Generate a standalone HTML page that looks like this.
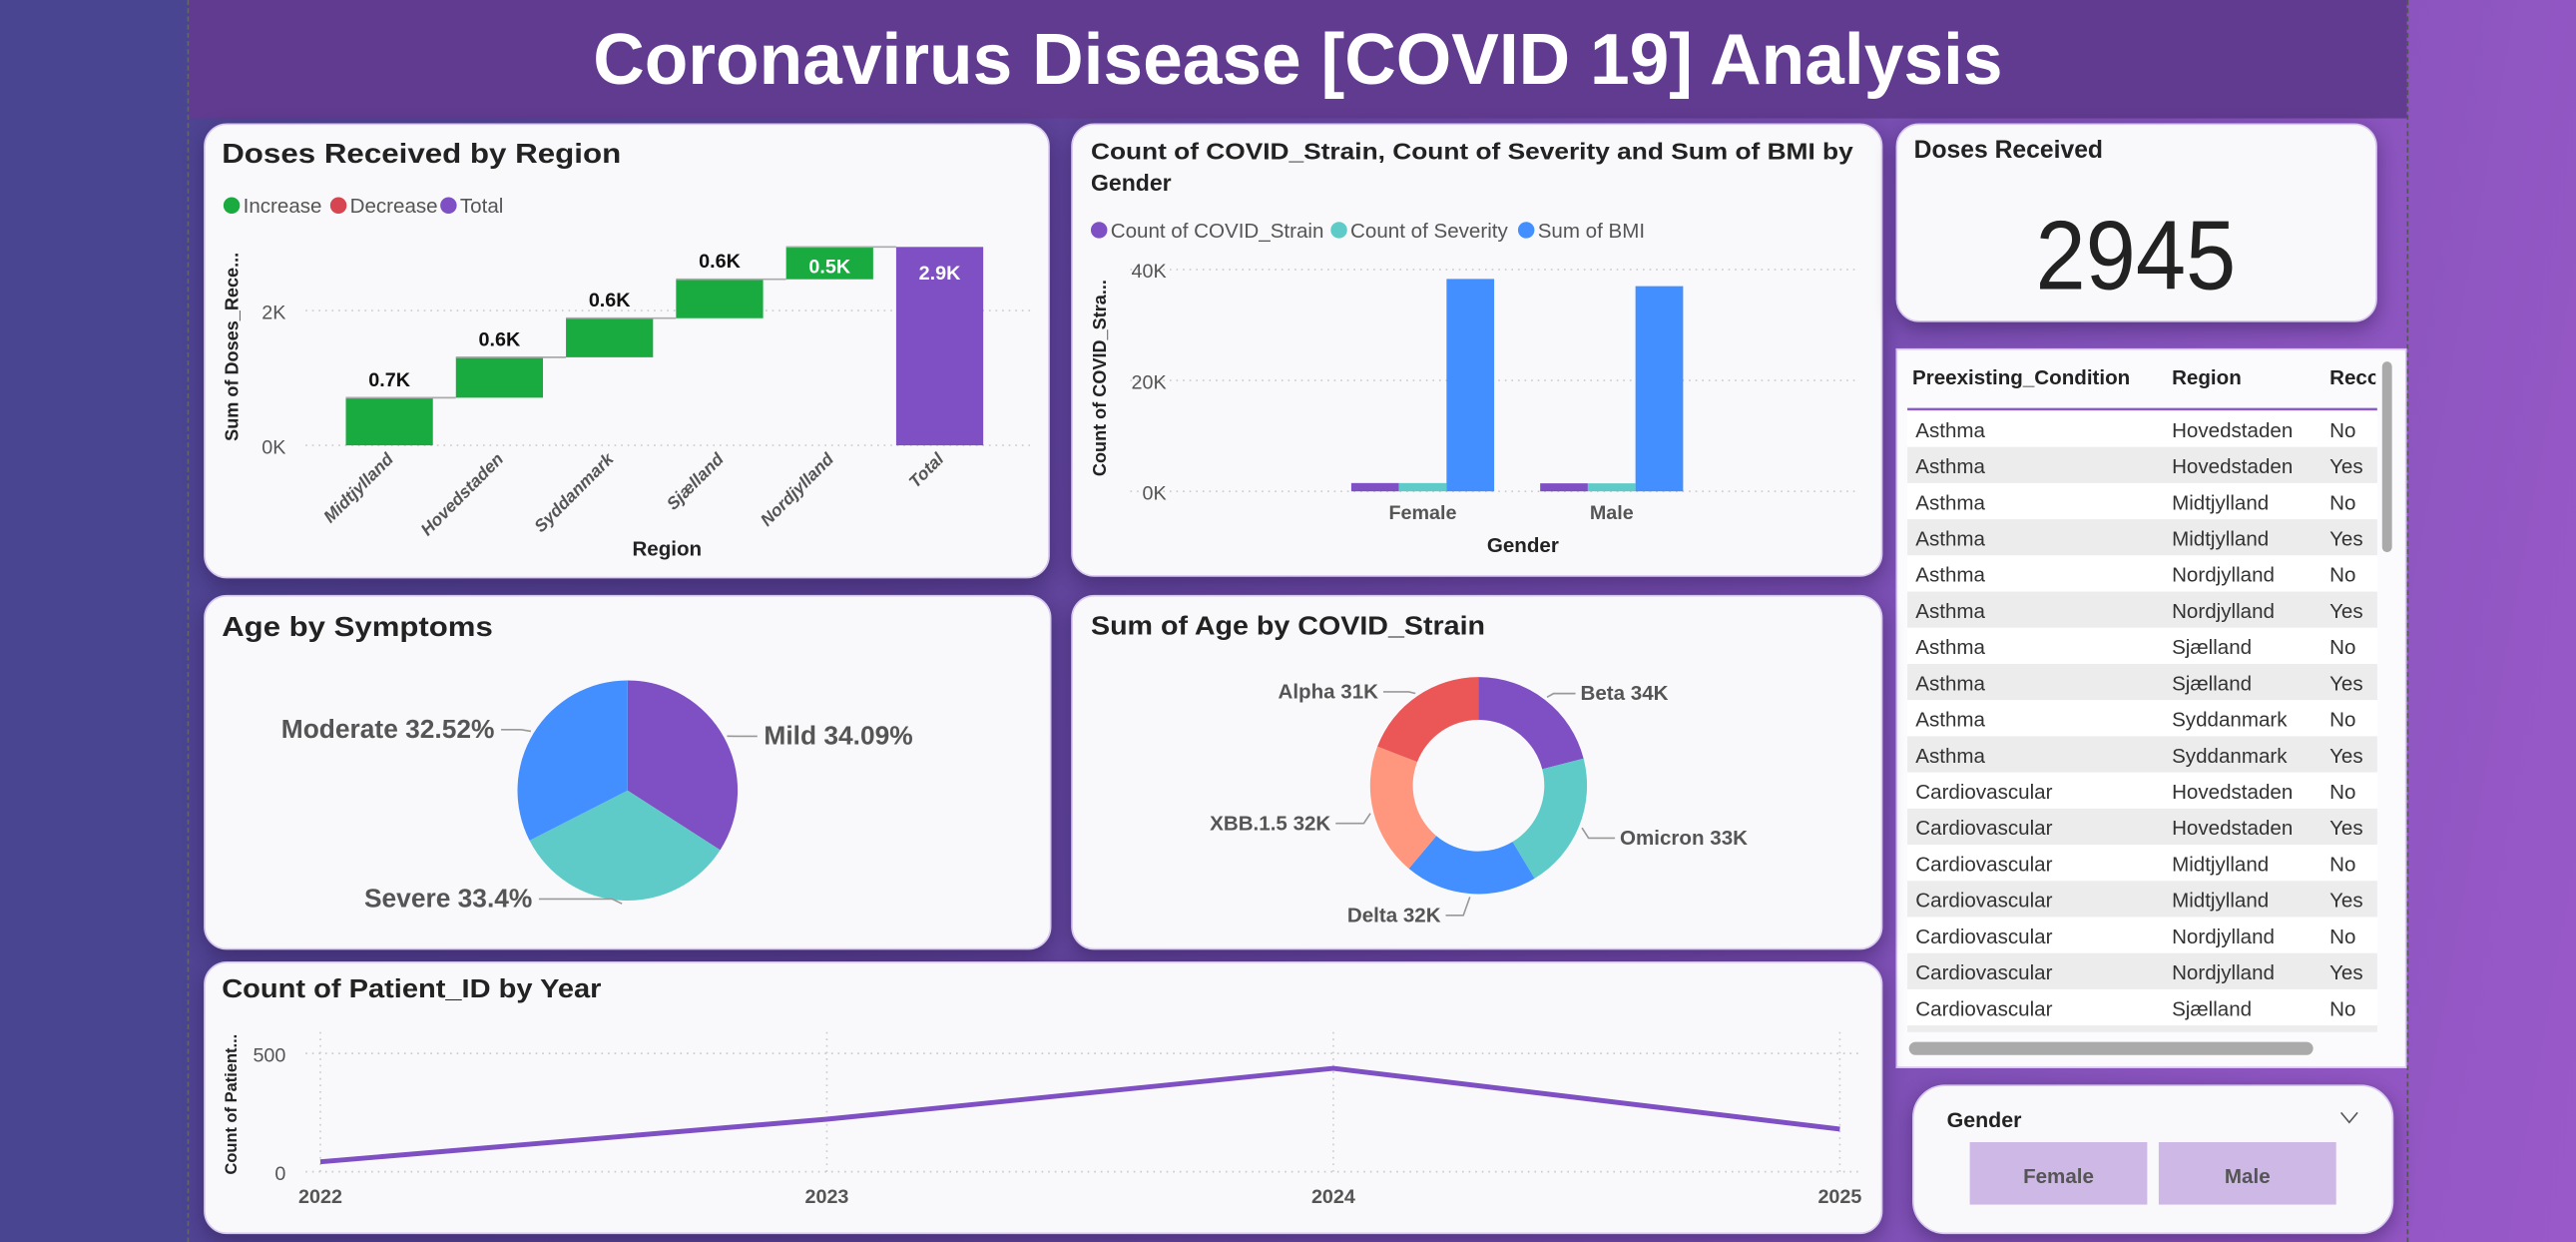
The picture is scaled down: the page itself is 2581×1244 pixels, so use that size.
<!DOCTYPE html>
<html><head><meta charset="utf-8">
<style>
html,body{margin:0;padding:0;width:2581px;height:1244px;overflow:hidden;}
body{background:linear-gradient(100deg,#4a4591 0%,#5a4296 35%,#7a4fb3 70%,#9a59c9 100%);font-family:"Liberation Sans",sans-serif;}
#stage{position:absolute;left:0;top:0;width:1568px;height:756px;transform:scale(1.64605);transform-origin:0 0;}
.card{position:absolute;background:#f9f9fb;border-radius:14px;box-shadow:0 4px 12px rgba(40,20,70,.45);border:1px solid #d7c8ef;box-sizing:border-box;}
svg{position:absolute;left:0;top:0;}
text{font-family:"Liberation Sans",sans-serif;}
</style></head><body>
<div id="stage">
<div style="position:absolute;left:0;top:0;width:115px;height:756px;background:#4a4591"></div>
<div style="position:absolute;left:115px;top:0;width:1350px;height:72px;background:#613b8f"></div>
<div style="position:absolute;left:114px;top:0;height:756px;border-left:1px dashed #666"></div>
<div style="position:absolute;left:1465px;top:0;height:756px;border-left:1px dashed #555"></div>
<div class="card" style="left:124px;top:75px;width:515px;height:277px"></div>
<div class="card" style="left:652px;top:75px;width:494px;height:276px"></div>
<div class="card" style="left:1154px;top:75px;width:293px;height:121px"></div>
<div style="position:absolute;left:1154px;top:212px;width:311px;height:438px;background:#fbfbfd;border:1px solid #d7c8ef;box-sizing:border-box"></div>
<div class="card" style="left:1164px;top:660px;width:293px;height:91px;border-radius:20px"></div>
<div class="card" style="left:124px;top:362px;width:516px;height:216px"></div>
<div class="card" style="left:652px;top:362px;width:494px;height:216px"></div>
<div class="card" style="left:124px;top:585px;width:1022px;height:166px"></div>

<svg id="svg" width="1568" height="756" viewBox="0 0 1568 756">
<text x="790" y="51" text-anchor="middle" font-size="44" font-weight="bold" fill="#fff" textLength="858" lengthAdjust="spacingAndGlyphs">Coronavirus Disease [COVID 19] Analysis</text>

<text x="135" y="99" font-size="17" font-weight="bold" fill="#222" textLength="243" lengthAdjust="spacingAndGlyphs">Doses Received by Region</text>
<g font-size="12.5" fill="#555">
<circle cx="141" cy="125" r="5" fill="#1aab40"/><text x="148" y="129.5">Increase</text>
<circle cx="206" cy="125" r="5" fill="#d64550"/><text x="213" y="129.5">Decrease</text>
<circle cx="273" cy="125" r="5" fill="#7f4fc4"/><text x="280" y="129.5">Total</text>
</g>
<g id="wf"></g>
<text transform="translate(145,211) rotate(-90)" text-anchor="middle" font-size="11" font-weight="bold" fill="#222">Sum of Doses_Rece...</text>
<text x="406" y="338" text-anchor="middle" font-size="12.5" font-weight="bold" fill="#222">Region</text>

<text x="664" y="97" font-size="14" font-weight="bold" fill="#222" textLength="464" lengthAdjust="spacingAndGlyphs">Count of COVID_Strain, Count of Severity and Sum of BMI by</text>
<text x="664" y="116" font-size="14" font-weight="bold" fill="#222">Gender</text>
<g font-size="12.5" fill="#555">
<circle cx="669" cy="140" r="5" fill="#7f4fc4"/><text x="676" y="144.5">Count of COVID_Strain</text>
<circle cx="815" cy="140" r="5" fill="#5ecbc8"/><text x="822" y="144.5">Count of Severity</text>
<circle cx="929" cy="140" r="5" fill="#438fff"/><text x="936" y="144.5">Sum of BMI</text>
</g>
<g id="bc"></g>
<text transform="translate(673,230) rotate(-90)" text-anchor="middle" font-size="11" font-weight="bold" fill="#222">Count of COVID_Stra...</text>
<text x="927" y="336" text-anchor="middle" font-size="12.5" font-weight="bold" fill="#222">Gender</text>

<text x="1165" y="96" font-size="15" font-weight="bold" fill="#222">Doses Received</text>
<text x="1300" y="176" text-anchor="middle" font-size="60" fill="#222" textLength="122" lengthAdjust="spacingAndGlyphs">2945</text>

<g id="tbl"></g>

<text x="1185" y="686" font-size="13" font-weight="bold" fill="#222">Gender</text>
<path d="M1425 677 L1430 683 L1435 677" stroke="#555" fill="none" stroke-width="1"/>
<g><rect x="1199" y="695" width="108" height="38" fill="#cdb8e6"/><text x="1253" y="720" text-anchor="middle" font-size="12.5" font-weight="bold" fill="#555">Female</text></g>
<g><rect x="1314" y="695" width="108" height="38" fill="#cdb8e6"/><text x="1368" y="720" text-anchor="middle" font-size="12.5" font-weight="bold" fill="#555">Male</text></g>

<text x="135" y="387" font-size="17" font-weight="bold" fill="#222" textLength="165" lengthAdjust="spacingAndGlyphs">Age by Symptoms</text>
<g id="pie"></g>

<text x="664" y="386" font-size="16" font-weight="bold" fill="#222" textLength="240" lengthAdjust="spacingAndGlyphs">Sum of Age by COVID_Strain</text>
<g id="donut"></g>

<text x="135" y="607" font-size="16" font-weight="bold" fill="#222" textLength="231" lengthAdjust="spacingAndGlyphs">Count of Patient_ID by Year</text>
<g id="ln"></g>
<text transform="translate(144,672) rotate(-90)" text-anchor="middle" font-size="10" font-weight="bold" fill="#222">Count of Patient...</text>
</svg>
</div>
<script>
const NS="http://www.w3.org/2000/svg";
function mk(tag,attrs,parent,txt){const e=document.createElementNS(NS,tag);for(const k in attrs)e.setAttribute(k,attrs[k]);if(txt!=null)e.textContent=txt;parent.appendChild(e);return e;}

// Waterfall data
const regions=["Midtjylland","Hovedstaden","Syddanmark","Sjælland","Nordjylland"];
const regionDoses=[707,600,580,578,480];
const regionLabels=["0.7K","0.6K","0.6K","0.6K","0.5K"];
const totalLabel="2.9K";
const wfTicks=[0,2000];
const wfTickLabels=["0K","2K"];

// Grouped bar data
const genders=["Female","Male"];
const strainCount=[1500,1450];
const severityCount=[1500,1450];
const bmiSum=[38300,37000];
const bcTicks=[0,20000,40000];
const bcTickLabels=["0K","20K","40K"];

// Table data
const tCond=["Asthma","Asthma","Asthma","Asthma","Asthma","Asthma","Asthma","Asthma","Asthma","Asthma","Cardiovascular","Cardiovascular","Cardiovascular","Cardiovascular","Cardiovascular","Cardiovascular","Cardiovascular","Cardiovascular"];
const tRegion=["Hovedstaden","Hovedstaden","Midtjylland","Midtjylland","Nordjylland","Nordjylland","Sjælland","Sjælland","Syddanmark","Syddanmark","Hovedstaden","Hovedstaden","Midtjylland","Midtjylland","Nordjylland","Nordjylland","Sjælland","Sjælland"];
const tRec=["No","Yes","No","Yes","No","Yes","No","Yes","No","Yes","No","Yes","No","Yes","No","Yes","No","Yes"];

// Pie data
const symptoms=["Mild","Severe","Moderate"];
const symptomPct=[34.09,33.4,32.52];

// Donut data
const strains=["Beta","Omicron","Delta","XBB.1.5","Alpha"];
const strainAge=[34,33,32,32,31];
const strainLabels=["Beta 34K","Omicron 33K","Delta 32K","XBB.1.5 32K","Alpha 31K"];

// Line data
const years=["2022","2023","2024","2025"];
const patients=[42,222,437,180];
const lnTicks=[0,500];

// ---- Waterfall
(function(){
 const g=document.getElementById('wf');
 const y0=271, k=82/2000, x0=237, step=67, bw=53;
 const Y=v=>y0-v*k;
 wfTicks.forEach((t,i)=>{
  const l=mk('line',{x1:186,x2:628,y1:Y(t),y2:Y(t),stroke:'#ccc','stroke-dasharray':'1 3'},g);
  
  const tx=mk('text',{x:174,y:Y(t)+5,'text-anchor':'end','font-size':12,fill:'#555'},g,wfTickLabels[i]);
  
 });
 let cum=0;
 regionDoses.forEach((v,i)=>{
  const cx=x0+i*step, top=Y(cum+v), bot=Y(cum);
  const r=mk('rect',{x:cx-bw/2,y:top,width:bw,height:bot-top,fill:'#1aab40'},g);
  
  const c=mk('line',{x1:cx-bw/2,x2:cx+bw/2+step-bw,y1:top,y2:top,stroke:'#aaa','stroke-width':1},g);
  
  const inside=(bot-top)<30 && i===regionDoses.length-1;
  const lt=mk('text',{x:cx,y:inside?top+16:top-7,'text-anchor':'middle','font-size':12,'font-weight':'bold',fill:inside?'#fff':'#111'},g,regionLabels[i]);
  
  const xl=mk('text',{transform:`translate(${cx+3},${y0+9}) rotate(-45)`,'text-anchor':'end','font-size':10.5,'font-weight':'bold','font-style':'italic',fill:'#555'},g,regions[i]);
  
  cum+=v;
 });
 const cx=x0+regionDoses.length*step;
 const r=mk('rect',{x:cx-bw/2,y:Y(cum),width:bw,height:y0-Y(cum),fill:'#7f4fc4'},g);
 
 const tl=mk('text',{x:cx,y:Y(cum)+20,'text-anchor':'middle','font-size':12,'font-weight':'bold',fill:'#fff'},g,totalLabel);
 
 const xl=mk('text',{transform:`translate(${cx+3},${y0+9}) rotate(-45)`,'text-anchor':'end','font-size':10.5,'font-weight':'bold','font-style':'italic',fill:'#555'},g,'Total');
 
})();

// ---- Grouped bars
(function(){
 const g=document.getElementById('bc');
 const y0=299, k=135/40000, bw=29, centers=[866,981];
 const Y=v=>y0-v*k;
 bcTicks.forEach((t,i)=>{
  const l=mk('line',{x1:688,x2:1132,y1:Y(t),y2:Y(t),stroke:'#ccc','stroke-dasharray':'1 3'},g);
  
  const tx=mk('text',{x:710,y:Y(t)+5,'text-anchor':'end','font-size':12,fill:'#555'},g,bcTickLabels[i]);
  
 });
 const series=[[strainCount,'#7f4fc4','strain'],[severityCount,'#5ecbc8','severity'],[bmiSum,'#438fff','bmi']];
 genders.forEach((gd,i)=>{
  series.forEach((s,j)=>{
   const v=s[0][i];
   const r=mk('rect',{x:centers[i]-1.5*bw+j*bw,y:Y(v),width:bw,height:y0-Y(v),fill:s[1]},g);
   
  });
  const t=mk('text',{x:centers[i],y:316,'text-anchor':'middle','font-size':12,'font-weight':'bold',fill:'#555'},g,gd);
  
 });
})();

// ---- Table
(function(){
 const g=document.getElementById('tbl');
 const hdr=[["Preexisting_Condition",1164],["Region",1322],["Reco",1418]];
 hdr.forEach(h=>{const t=mk('text',{x:h[1],y:234,'font-size':12.5,'font-weight':'bold',fill:'#222'},g,h[0]);
  });
 mk('rect',{x:1446,y:215,width:18,height:30,fill:'#fbfbfd'},g);
 const ul=mk('line',{x1:1161,x2:1447,y1:249,y2:249,stroke:'#8a5cc9','stroke-width':1.5},g);
 
 const clip=mk('clipPath',{id:'tclip'},g);mk('rect',{x:1160,y:250,width:288,height:378},clip);
 const body=mk('g',{'clip-path':'url(#tclip)'},g);
 tCond.forEach((c,i)=>{
  const y=250+i*22;
  const row=mk('g',{},body);
  
  mk('rect',{x:1161,y:y,width:286,height:22,fill:i%2?'#ececec':'#ffffff'},row);
  mk('text',{x:1166,y:y+16,'font-size':12.5,fill:'#333'},row,c);
  mk('text',{x:1322,y:y+16,'font-size':12.5,fill:'#333'},row,tRegion[i]);
  mk('text',{x:1418,y:y+16,'font-size':12.5,fill:'#333'},row,tRec[i]);
 });
 const vs=mk('rect',{x:1450,y:220,width:6,height:116,rx:3,fill:'#aaa'},g);
 
 const hs=mk('rect',{x:1162,y:634,width:246,height:8,rx:4,fill:'#aaa'},g);
 
})();

// ---- Pie
(function(){
 const g=document.getElementById('pie');
 const cx=382,cy=481,r=67,cols=['#7f4fc4','#5ecbc8','#438fff'];
 const tot=symptomPct.reduce((a,b)=>a+b,0);
 let a=-Math.PI/2;
 const lab=[{x:465,y:453,anc:'start'},{x:324,y:552,anc:'end'},{x:301,y:449,anc:'end'}];
 symptomPct.forEach((v,i)=>{
  const a2=a+v/tot*2*Math.PI;
  const p=mk('path',{d:`M${cx} ${cy} L${cx+r*Math.cos(a)} ${cy+r*Math.sin(a)} A${r} ${r} 0 ${a2-a>Math.PI?1:0} 1 ${cx+r*Math.cos(a2)} ${cy+r*Math.sin(a2)} Z`,fill:cols[i]},g);
  
  const L=lab[i];
  const lx=L.anc==='start'?L.x-4:L.x+4;
  // leader anchored on edge closest to label row
  let m=(a+a2)/2;
  const ex=cx+(r+2)*Math.cos(m), ey=cy+(r+2)*Math.sin(m);
  const mx=lx>ex?Math.min(ex+6,lx):Math.max(ex-6,lx);
  const ll=mk('polyline',{points:`${ex},${ey} ${mx},${L.y-5} ${lx},${L.y-5}`,stroke:'#999',fill:'none'},g);
  
  const t=mk('text',{x:L.x,y:L.y,'text-anchor':L.anc,'font-size':16,'font-weight':'bold',fill:'#555'},g,symptoms[i]+' '+v+'%');
  
  a=a2;
 });
})();

// ---- Donut
(function(){
 const g=document.getElementById('donut');
 const cx=900,cy=478,R=66,ri=40,cols=['#7f4fc4','#5ecbc8','#438fff','#ff977e','#eb5757'];
 const tot=strainAge.reduce((a,b)=>a+b,0);
 const lab=[{x:962,y:426,anc:'start'},{x:986,y:514,anc:'start'},{x:877,y:561,anc:'end'},{x:810,y:505,anc:'end'},{x:839,y:425,anc:'end'}];
 let a=-Math.PI/2;
 const P=(rr,t)=>`${cx+rr*Math.cos(t)} ${cy+rr*Math.sin(t)}`;
 strainAge.forEach((v,i)=>{
  const a2=a+v/tot*2*Math.PI, lg=a2-a>Math.PI?1:0;
  const p=mk('path',{d:`M${P(R,a)} A${R} ${R} 0 ${lg} 1 ${P(R,a2)} L${P(ri,a2)} A${ri} ${ri} 0 ${lg} 0 ${P(ri,a)} Z`,fill:cols[i]},g);
  
  const m=(a+a2)/2, ex=cx+(R+2)*Math.cos(m), ey=cy+(R+2)*Math.sin(m);
  const L=lab[i], lx=L.anc==='start'?L.x-3:L.x+3;
  const ll=mk('polyline',{points:`${ex},${ey} ${ex+(lx>ex?4:-4)},${L.y-4} ${lx},${L.y-4}`,stroke:'#999',fill:'none'},g);
  
  const t=mk('text',{x:L.x,y:L.y,'text-anchor':L.anc,'font-size':12.5,'font-weight':'bold',fill:'#555'},g,strainLabels[i]);
  
  a=a2;
 });
})();

// ---- Line
(function(){
 const g=document.getElementById('ln');
 const y0=713,k=72/500,xs0=195,xstep=308.3;
 const Y=v=>y0-v*k, X=i=>xs0+i*xstep;
 lnTicks.forEach(t=>{
  const l=mk('line',{x1:186,x2:1132,y1:Y(t),y2:Y(t),stroke:'#ccc','stroke-dasharray':'1 3'},g);
  
  const tx=mk('text',{x:174,y:Y(t)+5,'text-anchor':'end','font-size':12,fill:'#555'},g,String(t));
  
 });
 years.forEach((yr,i)=>{
  const l=mk('line',{x1:X(i),x2:X(i),y1:628,y2:713,stroke:'#ccc','stroke-dasharray':'1 3'},g);
  
  const t=mk('text',{x:X(i),y:732,'text-anchor':'middle','font-size':12,'font-weight':'bold',fill:'#555'},g,yr);
  
 });
 const pl=mk('polyline',{points:patients.map((v,i)=>X(i)+','+Y(v)).join(' '),stroke:'#7f4fc4','stroke-width':3,fill:'none','stroke-linejoin':'round'},g);
 
})();
</script>
</body></html>
